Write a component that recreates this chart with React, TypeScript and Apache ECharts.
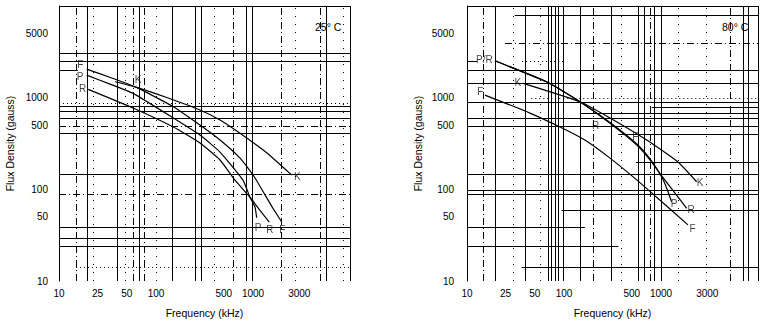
import React, { useEffect, useRef } from "react";
import * as echarts from "echarts";

type Pt = [number, number];
type Seg = [number, number, number];

// ---------- 25 °C panel: [frequency kHz, flux density gauss] ----------
const F_25: Pt[] = [[19.3, 2050], [35, 1640], [63, 1294], [151, 796], [284, 502], [457, 345], [735, 219], [1049, 133], [1330, 87], [1607, 62], [1977, 44]];
const K_25: Pt[] = [[37.8, 1490], [63, 1294], [129, 1003], [284, 733], [457, 570], [735, 408], [1393, 249], [2507, 143]];
const P_25: Pt[] = [[19.3, 1763], [33.6, 1406], [58, 1114], [151, 600], [284, 391], [457, 255], [788, 126], [931, 82], [1049, 64], [1091, 49]];
const R_25: Pt[] = [[20, 1231], [58, 771], [151, 478], [284, 320], [457, 209], [652, 126], [931, 82], [1180, 59], [1472, 44]];

// ---------- 80 °C panel ----------
const P_80: Pt[] = [[19.4, 2524], [66, 1490], [146, 902], [298, 525], [563, 304], [770, 209], [1016, 137], [1153, 101], [1288, 73]];
const R_80: Pt[] = [[19.4, 2524], [66, 1490], [146, 902], [298, 535], [563, 312], [770, 215], [1016, 140], [1361, 94], [1841, 62]];
const K_80: Pt[] = [[38, 1432], [146, 902], [298, 600], [713, 345], [1496, 199], [2333, 121]];
const F_80: Pt[] = [[15.3, 1067], [44.6, 679], [91, 478], [164, 345], [298, 219], [566, 126], [977, 76], [1897, 41]];

// ---------- tick labels ----------
const FREQ_TICKS = [10, 25, 50, 100, 500, 1000, 3000];
const FLUX_TICKS = [10, 50, 100, 500, 1000, 5000];
const TEMPS = ["25° C", "80° C"];

// ---------- graph-paper lines (data units) ----------
// left panel
const L_V_SOLID = [19.6, 39.9, 67.3, 148.6, 252, 296, 861, 984, 5754, 10000];
const L_V_DASHDOT = [15.2, 58.3, 75.7, 622, 1977, 4909];
const L_V_DOT = [22.5, 48, 100, 400, 2700, 8500];
const L_H_SOLID: Seg[] = [[10000, 10, 10000], [3041, 10, 10000], [2507, 10, 10000], [2000, 10, 15.7], [796, 10, 10000], [715, 10, 10000], [595, 10, 10000], [408, 10, 10000], [146, 10, 10000], [39, 10, 10000], [29, 10, 10000], [23.7, 10, 10000]];
const L_H_DOT: Seg[] = [[867, 10, 10000], [14.3, 15, 10000]];
const L_H_DASHDOT: Seg[] = [[490, 10, 10000], [88, 10, 10000]];
// right panel
const R_V_SOLID = [19.4, 39.6, 68.9, 74.6, 80.7, 87.3, 98.3, 146, 310, 584, 673, 853, 1000, 7047, 7943, 10000];
const R_V_DASHDOT = [14.7, 200, 770, 5150];
const R_V_DOT = [30, 56.6, 393, 1500, 2950];
const R_H_SOLID: Seg[] = [[10000, 10, 10000], [7962, 31, 10000], [2507, 10, 12.7], [2000, 10, 10000], [1452, 10, 10000], [902, 10, 10000], [783, 802, 10000], [684, 146, 10000], [595, 10, 10000], [482, 10, 10000], [398, 363, 10000], [195, 550, 10000], [146, 10, 10000], [98, 10, 10000], [88, 10, 10000], [59.5, 94.5, 10000], [39, 10, 164], [23.7, 10, 363], [14.3, 36.6, 10000]];
const R_H_DOT: Seg[] = [[982, 46, 10000], [2507, 37, 100]];
const R_H_DASHDOT: Seg[] = [[3972, 24.6, 10000]];

const FONT = "'Liberation Sans', Arial, Helvetica, sans-serif";
const BLACK = "#000";
const SOLID = { type: "solid", width: 1, color: BLACK };
const DOT = { type: [1, 3], width: 1, color: BLACK };
const SPARSE = { type: [1, 7], width: 1, color: BLACK };
const DASHDOT = { type: [7, 3, 1, 3], width: 1, color: BLACK };

function vLines(vals: number[], style: any) {
  return vals.map((v) => [{ coord: [v, 10], lineStyle: style }, { coord: [v, 10000] }]);
}
function hLines(segs: Seg[], style: any) {
  return segs.map(([y, a, b]) => [{ coord: [a, y], lineStyle: style }, { coord: [b, y] }]);
}

function gridSeries(idx: number, data: any[]) {
  return {
    type: "line",
    xAxisIndex: idx,
    yAxisIndex: idx,
    data: [],
    silent: true,
    clip: false,
    z: 1,
    markLine: {
      silent: true,
      symbol: ["none", "none"],
      label: { show: false },
      animation: false,
      data,
    },
  };
}

function curve(data: Pt[], idx: number) {
  return {
    type: "line",
    xAxisIndex: idx,
    yAxisIndex: idx,
    data,
    symbol: "none",
    showSymbol: false,
    smooth: 0.15,
    silent: true,
    clip: false,
    z: 3,
    lineStyle: { color: BLACK, width: 1.2 },
  };
}

function lbl(p: Pt, text: string, dx: number, dy: number) {
  return {
    value: p,
    label: { show: true, formatter: text, position: [dx, dy] },
  };
}

function labelSeries(idx: number, data: any[]) {
  return {
    type: "scatter",
    xAxisIndex: idx,
    yAxisIndex: idx,
    symbolSize: 1,
    itemStyle: { color: "rgba(255,255,255,0)" },
    silent: true,
    z: 4,
    label: {
      show: true,
      color: BLACK,
      fontSize: 10,
      lineHeight: 10,
      fontFamily: FONT,
      align: "center",
      verticalAlign: "middle",
      textShadowColor: "rgba(255,255,255,0.02)",
      textShadowBlur: 1,
    },
    emphasis: { disabled: true },
    data,
  };
}

function xAxis(gridIndex: number) {
  return {
    type: "log",
    logBase: 10,
    min: 10,
    max: 10000,
    gridIndex,
    name: "Frequency (kHz)",
    nameLocation: "middle",
    nameGap: 26,
    nameTextStyle: { fontSize: 10.5, color: BLACK, fontFamily: FONT },
    axisLine: { show: false },
    axisTick: { show: false },
    splitLine: { show: false },
    minorTick: { show: false },
    minorSplitLine: { show: false },
    axisLabel: {
      customValues: FREQ_TICKS,
      formatter: (v: number) => String(Math.round(v)),
      fontSize: 10,
      color: BLACK,
      margin: 7,
      fontFamily: FONT,
      hideOverlap: false,
    },
  };
}

function yAxis(gridIndex: number, margin: number) {
  return {
    type: "log",
    logBase: 10,
    min: 10,
    max: 10000,
    gridIndex,
    name: "Flux Density (gauss)",
    nameLocation: "middle",
    nameGap: 44,
    nameRotate: 90,
    nameTextStyle: { fontSize: 10.5, color: BLACK, fontFamily: FONT },
    axisLine: { show: true, lineStyle: { color: BLACK, width: 1 } },
    axisTick: { show: false },
    splitLine: { show: false },
    minorTick: { show: false },
    minorSplitLine: { show: false },
    axisLabel: {
      customValues: FLUX_TICKS,
      formatter: (v: number) => String(Math.round(v)),
      fontSize: 10,
      color: BLACK,
      margin,
      fontFamily: FONT,
      hideOverlap: false,
    },
  };
}

export default function App() {
  const ref = useRef<HTMLDivElement>(null);
  useEffect(() => {
    if (!ref.current) return;
    const chart = echarts.init(ref.current, undefined, { renderer: "svg" });
    const leftGrid = [
      ...vLines(L_V_SOLID, SOLID),
      ...vLines(L_V_DASHDOT, DASHDOT),
      ...vLines(L_V_DOT, SPARSE),
      ...hLines(L_H_SOLID, SOLID),
      ...hLines(L_H_DOT, DOT),
      ...hLines(L_H_DASHDOT, DASHDOT),
    ];
    const rightGrid = [
      ...vLines(R_V_SOLID, SOLID),
      ...vLines(R_V_DASHDOT, DASHDOT),
      ...vLines(R_V_DOT, SPARSE),
      ...hLines(R_H_SOLID, SOLID),
      ...hLines(R_H_DOT, DOT),
      ...hLines(R_H_DASHDOT, DASHDOT),
    ];
    const leftLabels = [
      lbl(F_25[0], "F", -6, -4),
      lbl(P_25[0], "P", -6, 2),
      lbl(R_25[0], "R", -5, 0),
      lbl(K_25[1], "K", 2, -7),
      lbl(K_25[K_25.length - 1], "K", 6, 2),
      lbl(P_25[P_25.length - 1], "P", 2, 10),
      lbl(R_25[R_25.length - 1], "R", 1, 8),
      lbl(F_25[F_25.length - 1], "F", 1, 8),
    ];
    const rightLabels = [
      lbl(P_80[0], "P/R", -10, -1),
      lbl(K_80[0], "K", -5, 0),
      lbl(F_80[0], "F", -4, -3),
      lbl(R_80[3], "R", -14, 3),
      lbl(K_80[3], "F", -11, -3),
      lbl(K_80[K_80.length - 1], "K", 4, 1),
      lbl(P_80[P_80.length - 1], "P", 3, 2),
      lbl(R_80[R_80.length - 1], "R", 5, 2),
      lbl(F_80[F_80.length - 1], "F", 5, 4),
    ];
    chart.setOption({
      animation: false,
      backgroundColor: "#fff",
      textStyle: { fontFamily: FONT },
      title: [
        { text: TEMPS[0], left: 315, top: 21, padding: 0, textStyle: { fontSize: 10.5, fontWeight: "normal", color: BLACK, fontFamily: FONT } },
        { text: TEMPS[1], left: 722, top: 21, padding: 0, textStyle: { fontSize: 10.5, fontWeight: "normal", color: BLACK, fontFamily: FONT } },
      ],
      grid: [
        { left: 59, top: 6, width: 291, height: 275 },
        { left: 467, top: 6, width: 291, height: 275 },
      ],
      xAxis: [xAxis(0), xAxis(1)],
      yAxis: [yAxis(0, 11), yAxis(1, 13)],
      series: [
        gridSeries(0, leftGrid),
        gridSeries(1, rightGrid),
        curve(F_25, 0),
        curve(K_25, 0),
        curve(P_25, 0),
        curve(R_25, 0),
        curve(P_80, 1),
        curve(R_80, 1),
        curve(K_80, 1),
        curve(F_80, 1),
        labelSeries(0, leftLabels),
        labelSeries(1, rightLabels),
      ],
    });
    return () => chart.dispose();
  }, []);
  return (
    <div
      ref={ref}
      style={{ position: "absolute", left: 0, top: 0, width: 770, height: 324, background: "#fff" }}
    />
  );
}
